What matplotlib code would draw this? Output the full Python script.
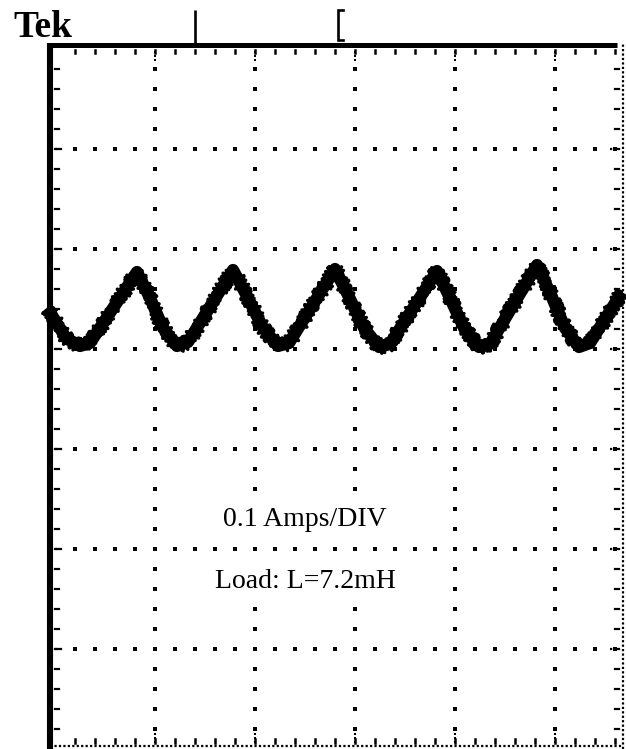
import numpy as np
import matplotlib
matplotlib.use('Agg')
import matplotlib.pyplot as plt

# scope trace (divisions): peaks and rounded troughs
trace_x = [-0.07, 0.11, 0.25, 0.35, 0.82, 0.95, 1.08, 1.22, 1.33,
           1.78, 1.93, 2.08, 2.23, 2.34, 2.80, 2.94, 3.09, 3.24, 3.35,
           3.82, 3.95, 4.09, 4.24, 4.35, 4.82, 4.96, 5.10, 5.24, 5.35, 5.67]
trace_y = [4.40, 4.11, 4.03, 4.06, 4.77, 4.51, 4.21, 4.03, 4.07,
           4.79, 4.51, 4.21, 4.03, 4.06, 4.80, 4.52, 4.21, 4.02, 4.05,
           4.78, 4.51, 4.21, 4.02, 4.05, 4.84, 4.54, 4.21, 4.02, 4.06, 4.57]

scale_label = '0.1 Amps/DIV'
load_label = 'Load: L=7.2mH'

W, H = 626, 749
fig = plt.figure(figsize=(W / 100, H / 100), dpi=100)
fig.patch.set_facecolor('white')
# 1 division = 100 px, origin of the graticule at px (55, 749)
ax = fig.add_axes([40 / W, 0, (W - 40) / W, (H - 38) / H])
ax.set_xlim(-0.15, 5.71)
ax.set_ylim(0, 7.11)
ax.axis('off')

x_right = 5.68
y_top = 7.045
y_bot = 0.03

# graticule: dotted major lines (a dot every 0.2 div)
minor_y = np.arange(0.2, 7.0, 0.2)
minor_x = np.arange(0.2, 5.65, 0.2)
dot = dict(s=5, marker='s', color='black', linewidths=0)
for gx in range(1, 6):
    ax.scatter(np.full(len(minor_y), gx), minor_y, **dot)
    ax.scatter(np.full(3, gx), [6.89, 6.93, 6.97], s=4, marker='s',
               color='black', linewidths=0)
    ax.scatter(np.full(3, gx), [0.07, 0.11, 0.15], s=4, marker='s',
               color='black', linewidths=0)
for gy in range(1, 7):
    ax.scatter(minor_x, np.full(len(minor_x), gy), **dot)
    ax.plot([0.0, 0.09], [gy, gy], color='black', lw=1.6, ls=(0, (1, 1.2)))
    ax.plot([5.55, 5.65], [gy, gy], color='black', lw=1.6, ls=(0, (1, 1.2)))

# edge ticks
for ty in minor_y:
    ax.plot([0.0, 0.035], [ty, ty], color='black', lw=1.6)
    ax.plot([5.6, 5.64], [ty, ty], color='black', lw=1.6)
for tx in minor_x:
    ax.plot([tx, tx], [6.96, 6.99], color='black', lw=1.8)
    ax.plot([tx, tx], [0.06, 0.1], color='black', lw=1.8)

# the trace: heavy stroke plus a ragged outline for the noisy look
ax.plot(trace_x, trace_y, color='black', lw=8.8, zorder=3,
        solid_joinstyle='round', solid_capstyle='butt')
rag, = ax.plot(trace_x, trace_y, color='black', lw=2.4, zorder=3,
               solid_joinstyle='round', solid_capstyle='butt')
rag.set_sketch_params(scale=7, length=1.2, randomness=3)

# frame: thick left and top, dense dotted right and bottom
ax.plot([-0.05, -0.05], [0, y_top + 0.02], color='black', lw=4.4,
        solid_capstyle='butt', clip_on=False, zorder=4)
ax.plot([-0.08, 5.62], [y_top, y_top], color='black', lw=3.6,
        solid_capstyle='butt', clip_on=False, zorder=4)
ax.plot([x_right, x_right], [0, 7.06], color='black', lw=1.6,
        ls=(0, (1, 1)), clip_on=False, zorder=4)
ax.plot([-0.05, x_right], [y_bot, y_bot], color='black', lw=1.6,
        ls=(0, (1, 1)), clip_on=False, zorder=4)

# screen annotations (printed over the graticule)
box = dict(facecolor='white', edgecolor='none', pad=3)
ax.text(2.5, 2.29, scale_label, ha='center', va='center', zorder=5,
        fontsize=20, family='Liberation Serif', color='black', bbox=box)
ax.text(2.5, 1.68, load_label, ha='center', va='center', zorder=5,
        fontsize=20, family='Liberation Serif', color='black', bbox=box)

# header: trigger / position markers
ax.plot([1.40, 1.40], [y_top, 7.39], color='black', lw=1.9, clip_on=False,
        solid_capstyle='butt')
ax.plot([2.88, 2.83, 2.83, 2.88], [7.39, 7.39, 7.09, 7.09], color='black',
        lw=1.9, clip_on=False, solid_joinstyle='miter')

fig.text(13 / W, 1 - 37 / H, 'Tek', ha='left', va='baseline', fontsize=27,
         fontweight='bold', family='Liberation Serif', color='black')

fig.savefig('out.png', dpi=100, facecolor='white')
